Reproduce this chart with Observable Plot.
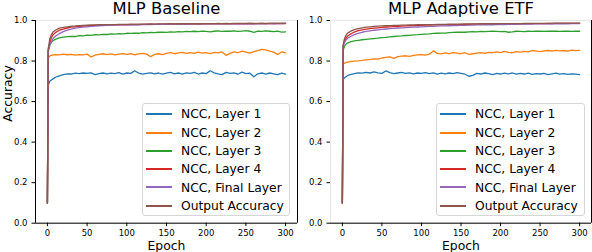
<!DOCTYPE html>
<html>
<head>
<meta charset="utf-8">
<script src="https://cdn.jsdelivr.net/npm/d3@7"></script>
<script src="https://cdn.jsdelivr.net/npm/@observablehq/plot@0.6"></script>
<style>
  html, body { margin: 0; padding: 0; background: #fff; }
  #root { position: relative; width: 592px; height: 252px; overflow: hidden; font-family: "DejaVu Sans", sans-serif; }
  .panel { position: absolute; top: 0; }
  .legend { position: absolute; border: 1px solid #d6d6d6; border-radius: 3px; background: rgba(255,255,255,0.85); box-sizing: border-box; }
  .row { position: absolute; height: 18px; line-height: 18px; font-size: 12.3px; color: #000; white-space: nowrap; }
  .sw { position: absolute; height: 1.5px; }
</style>
</head>
<body>
<div id="root"></div>
<script>
const seriesNames = ["NCC, Layer 1", "NCC, Layer 2", "NCC, Layer 3", "NCC, Layer 4", "NCC, Final Layer", "Output Accuracy"];
const seriesColors = ["#1f77b4", "#ff7f0e", "#2ca02c", "#d62728", "#9467bd", "#8c564b"];
const titles = ["MLP Baseline", "MLP Adaptive ETF"];
const xTicks = [0, 50, 100, 150, 200, 250, 300];
const yTicks = [0, 0.2, 0.4, 0.6, 0.8, 1.0];
const xDomain = [-15, 315];

const epochs = [0, 1, 2, 3, 5, 7, 10, 15, 20, 25,
  30, 35, 40, 45, 50, 55, 60, 65, 70, 75,
  80, 85, 90, 95, 100, 105, 110, 115, 120, 125,
  130, 135, 140, 145, 150, 155, 160, 165, 170, 175,
  180, 185, 190, 195, 200, 205, 210, 215, 220, 225,
  230, 235, 240, 245, 250, 255, 260, 265, 270, 275,
  280, 285, 290, 295, 300];

// ---- MLP Baseline ----
const baseL1 = [0.10, 0.68, 0.69, 0.70, 0.706, 0.712, 0.72, 0.727, 0.733, 0.737,
  0.736, 0.740, 0.738, 0.741, 0.739, 0.742, 0.733, 0.738, 0.741, 0.737,
  0.740, 0.738, 0.743, 0.736, 0.741, 0.739, 0.752, 0.740, 0.735, 0.739,
  0.742, 0.737, 0.741, 0.735, 0.740, 0.744, 0.737, 0.741, 0.736, 0.742,
  0.739, 0.744, 0.736, 0.741, 0.738, 0.752, 0.742, 0.737, 0.733, 0.744,
  0.739, 0.742, 0.735, 0.745, 0.738, 0.740, 0.722, 0.737, 0.741, 0.736,
  0.741, 0.737, 0.733, 0.740, 0.736];
const baseL2 = [0.10, 0.815, 0.82, 0.825, 0.828, 0.83, 0.832, 0.83, 0.834, 0.831,
  0.833, 0.829, 0.832, 0.830, 0.834, 0.820, 0.829, 0.833, 0.836, 0.832,
  0.835, 0.830, 0.834, 0.837, 0.833, 0.836, 0.831, 0.835, 0.838, 0.834,
  0.821, 0.833, 0.836, 0.832, 0.838, 0.841, 0.836, 0.840, 0.843, 0.838,
  0.841, 0.838, 0.844, 0.839, 0.842, 0.837, 0.843, 0.840, 0.845, 0.828,
  0.838, 0.845, 0.841, 0.849, 0.844, 0.839, 0.846, 0.851, 0.858, 0.855,
  0.849, 0.844, 0.832, 0.845, 0.840];
const baseL3 = [0.10, 0.855, 0.87, 0.88, 0.893, 0.90, 0.907, 0.914, 0.918, 0.92,
  0.922, 0.921, 0.925, 0.924, 0.928, 0.927, 0.93, 0.929, 0.932, 0.931,
  0.934, 0.933, 0.935, 0.934, 0.937, 0.936, 0.938, 0.937, 0.94, 0.939,
  0.941, 0.94, 0.942, 0.943, 0.941, 0.944, 0.943, 0.945, 0.944, 0.946,
  0.945, 0.947, 0.945, 0.948, 0.946, 0.944, 0.947, 0.949, 0.946, 0.948,
  0.947, 0.949, 0.946, 0.948, 0.95, 0.947, 0.942, 0.948, 0.946, 0.949,
  0.947, 0.945, 0.948, 0.943, 0.944];
const baseL4 = [0.10, 0.85, 0.87, 0.89, 0.915, 0.93, 0.94, 0.952, 0.958, 0.963,
  0.967, 0.969, 0.971, 0.972, 0.974, 0.975, 0.976, 0.976, 0.977, 0.978,
  0.978, 0.979, 0.979, 0.98, 0.979, 0.98, 0.981, 0.98, 0.981, 0.981,
  0.982, 0.981, 0.982, 0.981, 0.982, 0.983, 0.982, 0.982, 0.983, 0.982,
  0.983, 0.983, 0.982, 0.984, 0.983, 0.983, 0.984, 0.983, 0.984, 0.984,
  0.983, 0.984, 0.985, 0.984, 0.984, 0.985, 0.984, 0.985, 0.985, 0.984,
  0.985, 0.985, 0.986, 0.985, 0.985];
const baseFinal = [0.10, 0.845, 0.86, 0.875, 0.895, 0.91, 0.922, 0.935, 0.945, 0.952,
  0.958, 0.962, 0.965, 0.967, 0.969, 0.971, 0.972, 0.974, 0.975, 0.976,
  0.977, 0.977, 0.978, 0.978, 0.979, 0.979, 0.98, 0.979, 0.98, 0.981,
  0.98, 0.981, 0.981, 0.982, 0.981, 0.982, 0.982, 0.981, 0.982, 0.983,
  0.982, 0.983, 0.983, 0.982, 0.983, 0.984, 0.983, 0.983, 0.984, 0.983,
  0.984, 0.984, 0.983, 0.984, 0.985, 0.984, 0.984, 0.985, 0.984, 0.985,
  0.985, 0.984, 0.985, 0.985, 0.986];
const baseOut = [0.10, 0.86, 0.885, 0.91, 0.93, 0.943, 0.952, 0.962, 0.966, 0.969,
  0.972, 0.973, 0.975, 0.976, 0.977, 0.978, 0.978, 0.979, 0.979, 0.98,
  0.98, 0.98, 0.981, 0.981, 0.981, 0.982, 0.981, 0.982, 0.982, 0.982,
  0.983, 0.982, 0.983, 0.983, 0.983, 0.984, 0.983, 0.984, 0.984, 0.984,
  0.984, 0.985, 0.984, 0.985, 0.985, 0.985, 0.985, 0.986, 0.985, 0.986,
  0.985, 0.986, 0.986, 0.986, 0.986, 0.987, 0.986, 0.986, 0.987, 0.986,
  0.987, 0.987, 0.986, 0.987, 0.987];

// ---- MLP Adaptive ETF ----
const etfL1 = [0.10, 0.708, 0.714, 0.718, 0.724, 0.729, 0.733, 0.738, 0.742, 0.740,
  0.744, 0.741, 0.746, 0.742, 0.739, 0.751, 0.743, 0.738, 0.741, 0.744,
  0.739, 0.742, 0.737, 0.741, 0.739, 0.743, 0.738, 0.742, 0.736, 0.740,
  0.737, 0.741, 0.738, 0.743, 0.739, 0.735, 0.725, 0.729, 0.739, 0.736,
  0.741, 0.738, 0.733, 0.739, 0.736, 0.740, 0.737, 0.741, 0.735, 0.739,
  0.736, 0.740, 0.734, 0.738, 0.736, 0.739, 0.733, 0.737, 0.740, 0.735,
  0.738, 0.734, 0.737, 0.735, 0.733];
const etfL2 = [0.10, 0.785, 0.788, 0.790, 0.793, 0.795, 0.797, 0.80, 0.801, 0.803,
  0.806, 0.808, 0.811, 0.809, 0.815, 0.818, 0.820, 0.813, 0.822, 0.824,
  0.826, 0.823, 0.828, 0.83, 0.832, 0.829, 0.834, 0.850, 0.838, 0.835,
  0.840, 0.837, 0.842, 0.839, 0.836, 0.841, 0.833, 0.836, 0.839, 0.842,
  0.838, 0.843, 0.841, 0.845, 0.842, 0.848, 0.843, 0.841, 0.846, 0.844,
  0.848, 0.845, 0.852, 0.849, 0.846, 0.850, 0.852, 0.849, 0.853, 0.850,
  0.852, 0.849, 0.854, 0.851, 0.853];
const etfL3 = [0.10, 0.85, 0.865, 0.875, 0.885, 0.89, 0.895, 0.899, 0.902, 0.905,
  0.907, 0.909, 0.911, 0.913, 0.916, 0.917, 0.919, 0.921, 0.923, 0.924,
  0.926, 0.927, 0.929, 0.93, 0.932, 0.933, 0.934, 0.936, 0.937, 0.938,
  0.938, 0.94, 0.941, 0.942, 0.943, 0.942, 0.944, 0.945, 0.944, 0.946,
  0.945, 0.946, 0.947, 0.946, 0.945, 0.946, 0.942, 0.944, 0.947, 0.946,
  0.945, 0.947, 0.946, 0.948, 0.947, 0.946, 0.948, 0.947, 0.948, 0.946,
  0.947, 0.948, 0.946, 0.947, 0.947];
const etfL4 = [0.10, 0.875, 0.89, 0.90, 0.915, 0.925, 0.932, 0.943, 0.95, 0.954,
  0.957, 0.96, 0.962, 0.964, 0.966, 0.968, 0.969, 0.97, 0.971, 0.972,
  0.973, 0.974, 0.975, 0.975, 0.976, 0.977, 0.977, 0.978, 0.978, 0.979,
  0.979, 0.98, 0.98, 0.98, 0.981, 0.981, 0.981, 0.982, 0.982, 0.982,
  0.982, 0.983, 0.983, 0.983, 0.983, 0.984, 0.984, 0.984, 0.984, 0.984,
  0.985, 0.984, 0.985, 0.985, 0.985, 0.985, 0.986, 0.985, 0.986, 0.986,
  0.986, 0.986, 0.986, 0.986, 0.986];
const etfFinal = [0.10, 0.87, 0.885, 0.893, 0.905, 0.913, 0.92, 0.93, 0.937, 0.942,
  0.946, 0.949, 0.952, 0.954, 0.956, 0.958, 0.96, 0.961, 0.963, 0.964,
  0.965, 0.966, 0.967, 0.968, 0.969, 0.97, 0.971, 0.971, 0.972, 0.973,
  0.973, 0.974, 0.975, 0.975, 0.976, 0.976, 0.977, 0.977, 0.978, 0.978,
  0.978, 0.979, 0.979, 0.98, 0.98, 0.98, 0.981, 0.981, 0.981, 0.982,
  0.982, 0.982, 0.982, 0.983, 0.983, 0.983, 0.983, 0.984, 0.984, 0.984,
  0.984, 0.984, 0.985, 0.985, 0.985];
const etfOut = [0.10, 0.88, 0.90, 0.913, 0.93, 0.939, 0.946, 0.955, 0.96, 0.964,
  0.967, 0.969, 0.971, 0.972, 0.973, 0.974, 0.975, 0.976, 0.976, 0.977,
  0.977, 0.978, 0.978, 0.979, 0.979, 0.98, 0.98, 0.98, 0.981, 0.981,
  0.981, 0.982, 0.982, 0.982, 0.982, 0.983, 0.983, 0.983, 0.983, 0.984,
  0.984, 0.984, 0.984, 0.984, 0.985, 0.985, 0.985, 0.985, 0.985, 0.985,
  0.986, 0.986, 0.986, 0.986, 0.986, 0.986, 0.986, 0.987, 0.987, 0.987,
  0.987, 0.987, 0.987, 0.987, 0.987];

function toRows(vals) {
  return seriesNames.flatMap((s, i) => epochs.map((e, j) => ({series: s, epoch: e, acc: vals[i][j]})));
}

const panels = [
  {title: titles[0], data: toRows([baseL1, baseL2, baseL3, baseL4, baseFinal, baseOut]),
   left: 0, width: 300, mL: 35, mR: 3, leftSpine: true, yLabel: true, legendLeft: 142, legendW: 148},
  {title: titles[1], data: toRows([etfL1, etfL2, etfL3, etfL4, etfFinal, etfOut]),
   left: 300, width: 292, mL: 30, mR: 1, leftSpine: false, yLabel: false, legendLeft: 436, legendW: 149}
];

const root = document.getElementById("root");

panels.forEach(p => {
  const marks = [
    Plot.frame({stroke: "#e6e6e6"}),
    Plot.line(p.data, {x: "epoch", y: "acc", z: "series", stroke: "series", strokeWidth: 1.3}),
    Plot.ruleY([0], {stroke: "#000", strokeWidth: 1}),
    Plot.ruleX([xDomain[1]], {stroke: "#000", strokeWidth: 1}),
    Plot.axisX(xTicks, {tickSize: 3.5, tickPadding: 3, label: null, fontSize: 8.5}),
    Plot.axisY(yTicks, {tickSize: 3.5, tickPadding: 4.5, label: null, fontSize: 8.5, tickFormat: d3.format(".1f")}),
    Plot.text([p.title], {frameAnchor: "top", dy: -6.5, lineAnchor: "bottom", fontSize: 16.4, fill: "#000"}),
    Plot.text(["Epoch"], {frameAnchor: "bottom", dy: 26.3, lineAnchor: "bottom", fontSize: 12.4, fill: "#000"})
  ];
  if (p.leftSpine) marks.push(Plot.ruleX([xDomain[0]], {stroke: "#000", strokeWidth: 1}));
  if (p.yLabel) marks.push(Plot.text(["Accuracy"], {frameAnchor: "left", dx: -23.5, rotate: -90, lineAnchor: "bottom", fontSize: 12.4, fill: "#000"}));

  const svg = Plot.plot({
    width: p.width,
    height: 252,
    marginLeft: p.mL,
    marginRight: p.mR,
    marginTop: 20,
    marginBottom: 29.3,
    x: {domain: xDomain},
    y: {domain: [0, 1]},
    color: {domain: seriesNames, range: seriesColors},
    style: {fontFamily: "DejaVu Sans", fontSize: "8.5px", color: "#000", background: "transparent", overflow: "visible"},
    marks
  });
  svg.classList.add("panel");
  svg.style.left = p.left + "px";
  svg.style.position = "absolute";
  svg.style.top = "0px";
  root.appendChild(svg);

  const lg = document.createElement("div");
  lg.className = "legend";
  lg.style.left = p.legendLeft + "px";
  lg.style.top = "103px";
  lg.style.width = p.legendW + "px";
  lg.style.height = "113px";
  seriesNames.forEach((name, i) => {
    const cy = 10.2 + i * 18.3;
    const sw = document.createElement("div");
    sw.className = "sw";
    sw.style.left = "3px";
    sw.style.width = "26px";
    sw.style.top = Math.round(cy - 1) + "px";
    sw.style.background = seriesColors[i];
    lg.appendChild(sw);
    const row = document.createElement("div");
    row.className = "row";
    row.style.left = "38px";
    row.style.top = (cy - 8.8) + "px";
    row.textContent = name;
    lg.appendChild(row);
  });
  root.appendChild(lg);
});
</script>
</body>
</html>
